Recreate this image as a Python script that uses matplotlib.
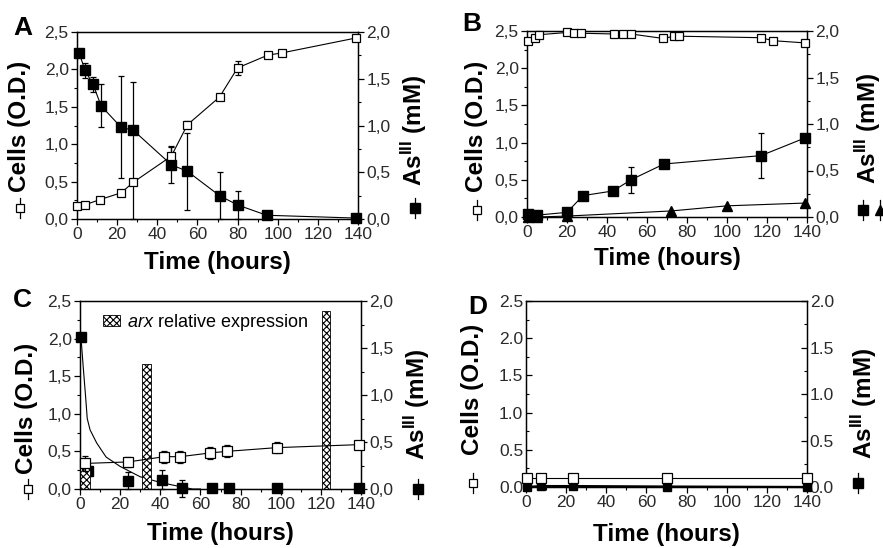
import matplotlib
matplotlib.use("Agg")
import matplotlib.pyplot as plt
from matplotlib.lines import Line2D
from matplotlib.ticker import MultipleLocator, FuncFormatter

plt.rcParams['font.family'] = ['Liberation Sans', 'DejaVu Sans']
plt.rcParams['mathtext.fontset'] = 'custom'
plt.rcParams['mathtext.rm'] = 'Liberation Sans'
plt.rcParams['mathtext.it'] = 'Liberation Sans:italic'
plt.rcParams['mathtext.bf'] = 'Liberation Sans:bold'
plt.rcParams['hatch.linewidth'] = 0.8

# ---------------- data ----------------
# Panel A
a_cells_t = [0, 4, 11.5, 22, 28, 47, 55, 71, 80, 95, 102, 139]
a_cells_v = [0.17, 0.19, 0.26, 0.35, 0.49, 0.84, 1.26, 1.63, 2.02, 2.19, 2.22, 2.42]
a_cells_e = [0.02, 0.03, 0.03, 0.03, 0.02, 0.12, 0.05, 0.04, 0.09, 0.02, 0.02, 0.02]
a_as_t = [1, 4, 8, 12, 22, 28, 47, 55, 71, 80, 94.5, 139]
a_as_v = [1.78, 1.59, 1.44, 1.21, 0.98, 0.95, 0.58, 0.51, 0.25, 0.15, 0.04, 0.01]
a_as_e_lo = [0.0, 0.08, 0.08, 0.23, 0.54, 0.95, 0.2, 0.41, 0.25, 0.15, 0.02, 0.0]
a_as_e_hi = [0.0, 0.08, 0.08, 0.23, 0.55, 0.51, 0.2, 0.41, 0.25, 0.15, 0.02, 0.0]

# Panel B
b_cells_t = [0.7, 4, 6, 20, 23.5, 27, 43.5, 48, 52, 68, 73.7, 76, 117, 123, 139]
b_cells_v = [2.36, 2.41, 2.45, 2.48, 2.47, 2.47, 2.46, 2.46, 2.46, 2.40, 2.43, 2.43, 2.41, 2.37, 2.34]
b_as_t = [0.7, 5, 20, 28, 43, 52, 68.5, 117, 139]
b_as_v = [0.03, 0.02, 0.05, 0.23, 0.28, 0.40, 0.57, 0.66, 0.85]
b_as_e = [0.01, 0.01, 0.01, 0.01, 0.01, 0.14, 0.01, 0.24, 0.01]
b_tri_t = [0.7, 5, 20, 72, 100, 139]
b_tri_v = [0.0, 0.0, 0.01, 0.065, 0.12, 0.15]

# Panel C
c_cells_t = [2.5, 24, 42, 50, 65, 73, 98, 139]
c_cells_v = [0.34, 0.36, 0.43, 0.43, 0.48, 0.50, 0.55, 0.59]
c_cells_e = [0.1, 0.07, 0.08, 0.08, 0.08, 0.08, 0.07, 0.02]
c_as_t = [0.5, 4, 24, 41, 51, 66, 74, 98, 139]
c_as_v = [1.62, 0.19, 0.09, 0.10, 0.01, 0.01, 0.01, 0.01, 0.01]
c_as_e = [0.0, 0.05, 0.09, 0.1, 0.09, 0.0, 0.0, 0.0, 0.0]
c_fit_t = [0, 1.6, 2.8, 3.6, 5, 8.3, 13, 20, 30, 40, 50, 56, 60]
c_fit_v = [1.75, 1.30, 0.98, 0.75, 0.63, 0.49, 0.34, 0.24, 0.13, 0.07, 0.025, 0.0, 0.0]
c_bar_t = [2.5, 33, 122.5]
c_bar_v = [0.38, 1.66, 2.37]
c_bar_w = [5, 4.5, 4]

# Panel D
d_t = [0.6, 7.3, 23.3, 70.1, 140]
d_cells_v = [0.12, 0.12, 0.12, 0.12, 0.12]
d_as_v = [0.0, 0.01, 0.01, 0.005, 0.0]

x_ticks = [0, 20, 40, 60, 80, 100, 120, 140]

# ---------------- figure ----------------
W, H = 883, 548
fig = plt.figure(figsize=(W / 100, H / 100), dpi=100)

TICK_FS = 12.5
LAB_FS = 17.5
LET_FS = 19
TXT_COL = '#2a2a2a'


def px_ax(l, t, r, b):
    return [l / W, 1 - b / H, (r - l) / W, (b - t) / H]


def fx(x):
    return x / W


def fy(y):
    return 1 - y / H


def fmt(comma):
    def f(v, pos):
        s = '%.1f' % v
        return s.replace('.', ',') if comma else s
    return FuncFormatter(f)


def setup(ax, comma, ydir='out'):
    ax.set_xlim(0, 140)
    ax.set_ylim(0, 2.5)
    ax.set_xticks(x_ticks)
    ax.xaxis.set_minor_locator(MultipleLocator(10))
    ax.yaxis.set_major_locator(MultipleLocator(0.5))
    ax.yaxis.set_minor_locator(MultipleLocator(0.25))
    ax.yaxis.set_major_formatter(fmt(comma))
    ax.tick_params(axis='x', which='both', direction='out', top=False, labelsize=TICK_FS,
                   labelcolor=TXT_COL, pad=2)
    ax.tick_params(axis='y', which='both', direction=ydir, right=False, labelsize=TICK_FS,
                   labelcolor=TXT_COL, pad=2)
    ax.tick_params(which='major', length=4, width=0.9)
    ax.tick_params(which='minor', length=2.5, width=0.8)
    for s in ax.spines.values():
        s.set_linewidth(1.0)
    ax2 = ax.twinx()
    ax2.set_ylim(0, 2.0)
    ax2.yaxis.set_major_locator(MultipleLocator(0.5))
    ax2.yaxis.set_minor_locator(MultipleLocator(0.25))
    ax2.yaxis.set_major_formatter(fmt(comma))
    ax2.tick_params(axis='y', which='both', direction=ydir, labelsize=TICK_FS,
                    labelcolor=TXT_COL, pad=2)
    ax2.tick_params(which='major', length=4, width=0.9)
    ax2.tick_params(which='minor', length=2.5, width=0.8)
    ax.set_zorder(ax2.get_zorder() + 1)
    ax.patch.set_visible(False)
    return ax2


def open_sq(ax, t, v, e=None, ms=6):
    ax.errorbar(t, v, yerr=e, color='black', lw=0.8, marker='s', ms=ms, mfc='white',
                mec='black', mew=0.9, elinewidth=0.9, capsize=2.5, capthick=0.9, zorder=4,
                clip_on=False)


def fill_sq(ax, t, v, e=None, ms=7, lw=0.8):
    ax.errorbar(t, v, yerr=e, color='black', lw=lw, marker='s', ms=ms, mfc='black',
                mec='black', elinewidth=0.9, capsize=2.5, capthick=0.9, zorder=3,
                clip_on=False)


def key(xc, yc, kind):
    fig.add_artist(Line2D([fx(xc), fx(xc)], [fy(yc - 10), fy(yc + 10)], color='black', lw=0.9))
    if kind == 'open':
        fig.add_artist(Line2D([fx(xc)], [fy(yc)], marker='s', ms=6, mfc='white', mec='black', mew=0.9))
    elif kind == 'fill':
        fig.add_artist(Line2D([fx(xc)], [fy(yc)], marker='s', ms=6.5, mfc='black', mec='black'))
    else:
        fig.add_artist(Line2D([fx(xc)], [fy(yc)], marker='^', ms=7, mfc='black', mec='black'))


def labels(ax, lx, ly, rx, ry, letter, letpos, keyy, lkx, rkeys, xpad=6):
    ax.set_xlabel('Time (hours)', fontsize=LAB_FS, fontweight='bold', labelpad=xpad)
    fig.text(fx(lx), fy(ly), 'Cells (O.D.)', rotation=90, ha='center', va='center',
             fontsize=LAB_FS, fontweight='bold')
    fig.text(fx(rx), fy(ry), r'As$^{\mathbf{III}}$ (mM)', rotation=90, ha='center', va='center',
             fontsize=LAB_FS, fontweight='bold')
    fig.text(fx(letpos[0]), fy(letpos[1]), letter, ha='center', va='center',
             fontsize=LET_FS, fontweight='bold')
    key(lkx, keyy, 'open')
    for (kx, kind) in rkeys:
        key(kx, keyy, kind)


# ---------------- Panel A ----------------
axA = fig.add_axes(px_ax(77, 32, 358, 219))
axA2 = setup(axA, True)
fill_sq(axA2, a_as_t, a_as_v, [a_as_e_lo, a_as_e_hi])
open_sq(axA, a_cells_t, a_cells_v, a_cells_e, ms=5.5)
labels(axA, 20, 126, 414, 130, 'A', (23, 28), 208, 20, [(415, 'fill')], xpad=6)

# ---------------- Panel B ----------------
axB = fig.add_axes(px_ax(527, 31, 807, 217))
axB2 = setup(axB, True)
axB2.plot(b_tri_t, b_tri_v, color='black', lw=0.8, marker='^', ms=7, mfc='black',
          zorder=3, clip_on=False)
fill_sq(axB2, b_as_t, b_as_v, b_as_e)
open_sq(axB, b_cells_t, b_cells_v, None, ms=6)
labels(axB, 477, 126, 868, 128, 'B', (472, 24), 210, 477, [(863, 'fill'), (880, 'tri')], xpad=5)

# ---------------- Panel C ----------------
axC = fig.add_axes(px_ax(80, 301, 361, 489))
axC2 = setup(axC, True)
axC.bar(c_bar_t, c_bar_v, width=c_bar_w, color='white', edgecolor='black', hatch='xxxxx',
        lw=0.6, zorder=2, label='arx')
axC2.plot(c_fit_t, c_fit_v, color='black', lw=0.8, zorder=3)
axC2.errorbar(c_as_t, c_as_v, yerr=c_as_e, ls='none', marker='s', ms=7, mfc='black', mec='black',
              ecolor='black', elinewidth=0.9, capsize=2.5, capthick=0.9, zorder=3, clip_on=False)
open_sq(axC, c_cells_t, c_cells_v, c_cells_e, ms=7)
leg = axC.legend(handles=[axC.patches[0]], labels=[r'$\it{arx}$ relative expression'],
                 loc='upper left', bbox_to_anchor=(0.045, 1.0), frameon=False, fontsize=13,
                 handlelength=0.9, handleheight=0.6, handletextpad=0.4, borderaxespad=0.2)
labels(axC, 26, 408, 417, 404, 'C', (22, 300), 489, 28, [(418, 'fill')], xpad=7)

# ---------------- Panel D ----------------
axD = fig.add_axes(px_ax(526, 301, 807, 487))
axD2 = setup(axD, False, ydir='in')
fill_sq(axD2, d_t, d_as_v, None, ms=6, lw=1.6)
open_sq(axD, d_t, d_cells_v, None, ms=7)
labels(axD, 472, 389, 864, 403, 'D', (478, 307), 483, 473, [(858, 'fill')], xpad=9)

fig.savefig('out.png', dpi=100)
